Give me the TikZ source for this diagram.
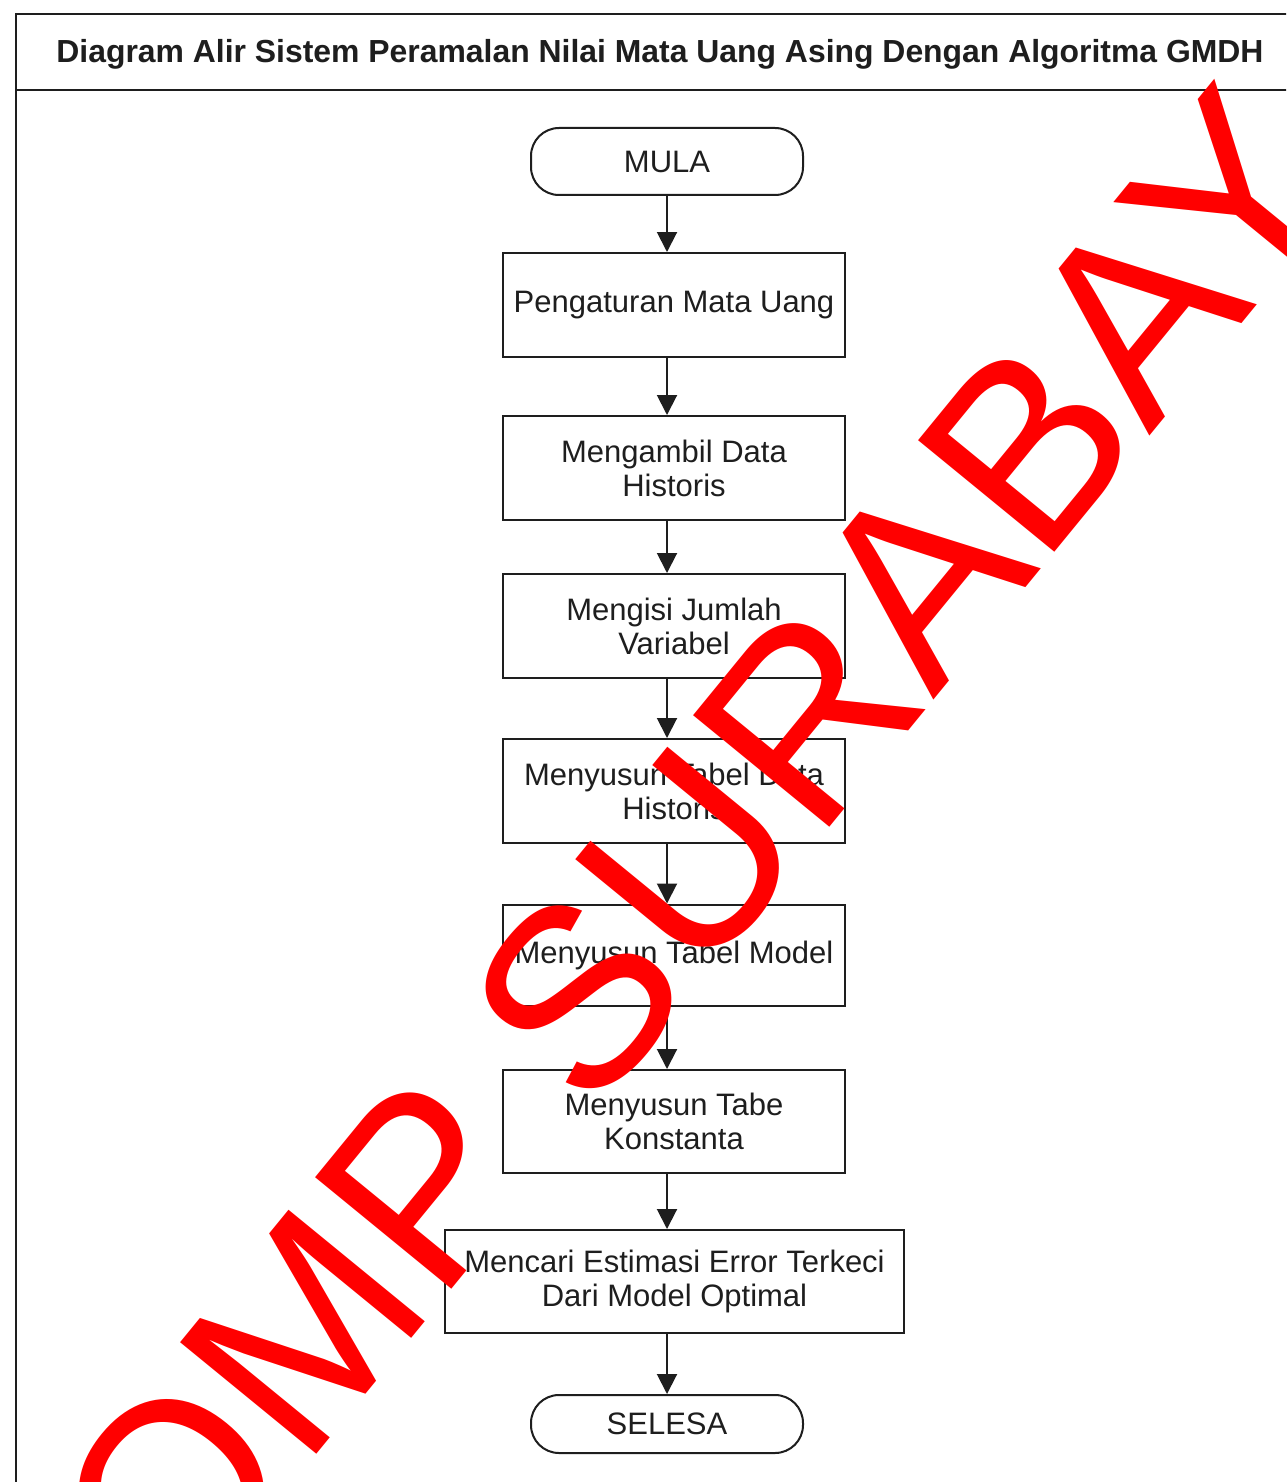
\documentclass[tikz,border=0pt]{standalone}
\usepackage{fontspec}
\setmainfont{Liberation Sans}
\usetikzlibrary{arrows.meta}
\definecolor{ink}{HTML}{1E1E1E}
\definecolor{wmred}{HTML}{FF0000}
\begin{document}
\begin{tikzpicture}[x=1pt,y=-1pt,
  frameline/.style={line width=2.2pt, draw=ink},
  procbox/.style={draw=ink, line width=2pt, minimum width=342pt, minimum height=104pt,
    align=center, inner sep=0pt, text=ink, font=\fontsize{31}{34}\selectfont},
  termbox/.style={draw=ink, line width=2pt, rounded corners=28pt, minimum width=272pt,
    minimum height=67pt, inner sep=0pt, text=ink, font=\fontsize{31}{34}\selectfont},
  flow/.style={draw=ink, line width=2pt, -{Triangle[width=20pt,length=20pt]}},
  titletext/.style={font=\bfseries\fontsize{31.9}{34}\selectfont, text=ink, inner sep=0pt},
  watermark/.style={text=wmred, inner sep=0pt, font=\fontsize{256}{256}\selectfont}
]
\useasboundingbox (0,0) rectangle (1286,1482);
\clip (0,0) rectangle (1286,1482);
\fill[white] (0,0) rectangle (1286,1482);

% frame
\draw[frameline] (16,1500) -- (16,14) -- (1300,14);
\draw[frameline] (16,90) -- (1300,90);
\node[titletext] (title) at (660,54) {Diagram Alir Sistem Peramalan Nilai Mata Uang Asing Dengan Algoritma GMDH};

% nodes
\node[termbox] (mula) at (667,161.5) {MULA};
\node[procbox] (p1) at (674,305) {Pengaturan Mata Uang};
\node[procbox] (p2) at (674,468) {Mengambil Data\\Historis};
\node[procbox] (p3) at (674,626) {Mengisi Jumlah\\Variabel};
\node[procbox] (p4) at (674,791) {Menyusun Tabel Data\\Historis};
\node[procbox, minimum height=101pt] (p5) at (674,955) {Menyusun Tabel Model};
\node[procbox, minimum height=103pt] (p6) at (674,1121.5) {Menyusun Tabe\\Konstanta};
\node[procbox, minimum width=459pt, minimum height=103pt] (p7) at (674.5,1281.5) {Mencari Estimasi Error Terkeci\\Dari Model Optimal};
\node[termbox, minimum height=58pt] (selesa) at (667,1424) {SELESA};

% connectors
\draw[flow] (mula.south) -- (mula.south |- p1.north);
\draw[flow] (mula.south |- p1.south) -- (mula.south |- p2.north);
\draw[flow] (mula.south |- p2.south) -- (mula.south |- p3.north);
\draw[flow] (mula.south |- p3.south) -- (mula.south |- p4.north);
\draw[flow] (mula.south |- p4.south) -- (mula.south |- p5.north);
\draw[flow] (mula.south |- p5.south) -- (mula.south |- p6.north);
\draw[flow] (mula.south |- p6.south) -- (mula.south |- p7.north);
\draw[flow] (mula.south |- p7.south) -- (selesa.north);

% watermark
\node[watermark, rotate=50.7, anchor=base west] (wm) at (177,1625) {OMP SURABAY};
\end{tikzpicture}
\end{document}
